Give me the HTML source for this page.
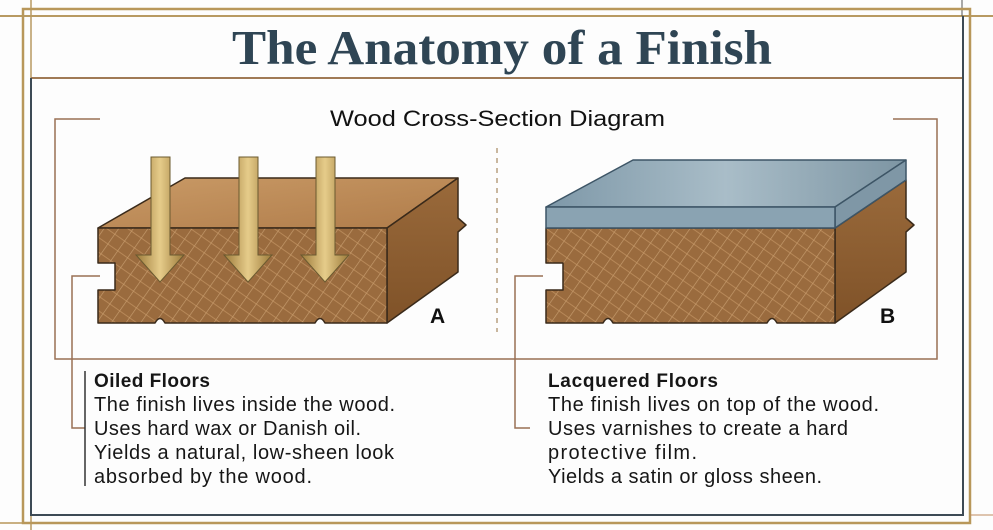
<!DOCTYPE html>
<html><head><meta charset="utf-8"><style>
html,body{margin:0;padding:0;background:#fdfdfd;}
svg{display:block}
</style></head><body>
<svg width="993" height="530" viewBox="0 0 993 530" xmlns="http://www.w3.org/2000/svg">
<defs>
<pattern id="grain" width="12" height="12" patternUnits="userSpaceOnUse" patternTransform="rotate(35)">
<rect width="12" height="12" fill="#9a6b3e"/>
<line x1="0" y1="0" x2="0" y2="12" stroke="#d9b083" stroke-width="1.3" opacity=".7"/>
<line x1="0" y1="6" x2="12" y2="6" stroke="#c99a68" stroke-width="1" opacity=".6"/>
</pattern>
<linearGradient id="top" x1="0" y1="0" x2="1" y2="1"><stop offset="0" stop-color="#c99a66"/><stop offset="1" stop-color="#b07c4a"/></linearGradient>
<linearGradient id="side" x1="0" y1="0" x2="0" y2="1"><stop offset="0" stop-color="#9a6a3b"/><stop offset="1" stop-color="#7f5228"/></linearGradient>
<linearGradient id="gold" x1="0" y1="0" x2="1" y2="0"><stop offset="0" stop-color="#9c7a3a"/><stop offset=".5" stop-color="#e6cc8a"/><stop offset="1" stop-color="#9c7a3a"/></linearGradient>
<linearGradient id="glass" x1="0" y1="0" x2="1" y2="0"><stop offset="0" stop-color="#7e98a8"/><stop offset=".5" stop-color="#a9bdc8"/><stop offset="1" stop-color="#7d95a3"/></linearGradient>
</defs>
<g fill="none">
<line x1="0" y1="16" x2="993" y2="16" stroke="#b89a62" stroke-width="2"/>
<line x1="31" y1="0" x2="31" y2="530" stroke="#b89a62" stroke-width="1.5"/>
<line x1="962" y1="0" x2="962" y2="16" stroke="#555" stroke-width="1"/>
<rect x="23" y="9" width="947" height="514" stroke="#b8975a" stroke-width="2.5"/>
<line x1="31" y1="78" x2="963" y2="78" stroke="#a07a55" stroke-width="2"/>
<path d="M31 78 V515 H963 V16" stroke="#3d4a55" stroke-width="2"/>
<line x1="0" y1="523" x2="23" y2="523" stroke="#b8975a" stroke-width="1.5"/>
<line x1="970" y1="515" x2="993" y2="515" stroke="#c08a60" stroke-width="1"/>
</g>
<text x="232" y="64" textLength="540" lengthAdjust="spacingAndGlyphs" font-family="Liberation Serif, serif" font-weight="bold" font-size="49" fill="#2f4554">The Anatomy of a Finish</text>
<text x="330" y="126" textLength="335" lengthAdjust="spacingAndGlyphs" font-family="Liberation Sans, sans-serif" font-size="22" fill="#111">Wood Cross-Section Diagram</text>
<path d="M100 119 H55 V359 H937 V119 H893" fill="none" stroke="#9a7055" stroke-width="1.5"/>
<path d="M100 276 H72 V428 H85" fill="none" stroke="#9a7055" stroke-width="1.5"/>
<path d="M543 276 H515 V428 H530" fill="none" stroke="#9a7055" stroke-width="1.5"/>
<line x1="497" y1="148" x2="497" y2="332" stroke="#b8a080" stroke-width="1.5" stroke-dasharray="5,5"/>
<g stroke="#3a2a1a" stroke-width="1.5" stroke-linejoin="round">
<path d="M98 228 L185 178 L458 178 L387 228 Z" fill="url(#top)"/>
<path d="M387 228 L458 178 L458 218 L466 225 L458 232 L458 272 L387 323 Z" fill="url(#side)"/>
<path d="M98 228 H387 V323 H325 Q320 314 315 323 H165 Q160 314 155 323 H98 V290 H115 V263 H98 Z" fill="url(#grain)"/>
</g>
<g fill="url(#gold)" stroke="#6b5a30" stroke-width="1">
<path d="M151 157 H170 V255 H184 L160 282 L136 255 H151 Z"/>
<path d="M239 157 H258 V255 H272 L248 282 L224 255 H239 Z"/>
<path d="M316 157 H335 V255 H349 L325 282 L301 255 H316 Z"/>
</g>
<text x="430" y="323" font-family="Liberation Sans, sans-serif" font-weight="bold" font-size="21" fill="#111">A</text>
<g stroke="#3a2a1a" stroke-width="1.5" stroke-linejoin="round">
<path d="M835 228 L906 180 L906 218 L914 225 L906 232 L906 272 L835 323 Z" fill="url(#side)"/>
<path d="M546 228 H835 V323 H777 Q772 314 767 323 H613 Q608 314 603 323 H546 V290 H563 V263 H546 Z" fill="url(#grain)"/>
</g>
<g stroke="#3d5566" stroke-width="1.5" stroke-linejoin="round">
<path d="M546 207 L633 160 L906 160 L835 207 Z" fill="url(#glass)"/>
<path d="M835 207 L906 160 L906 180 L835 228 Z" fill="#7f97a6"/>
<rect x="546" y="207" width="289" height="21" fill="#8aa3b2"/>
</g>
<text x="880" y="323" font-family="Liberation Sans, sans-serif" font-weight="bold" font-size="21" fill="#111">B</text>
<line x1="85" y1="371" x2="85" y2="486" stroke="#333" stroke-width="1.5"/>
<g font-family="Liberation Sans, sans-serif" font-size="20" fill="#161616" lengthAdjust="spacingAndGlyphs">
<text x="94" y="387" font-weight="bold" font-size="19" textLength="116">Oiled Floors</text>
<text x="94" y="411" textLength="301">The finish lives inside the wood.</text>
<text x="94" y="435" textLength="267">Uses hard wax or Danish oil.</text>
<text x="94" y="459" textLength="300">Yields a natural, low-sheen look</text>
<text x="94" y="483" textLength="218">absorbed by the wood.</text>
<text x="548" y="387" font-weight="bold" font-size="19" textLength="170">Lacquered Floors</text>
<text x="548" y="411" textLength="331">The finish lives on top of the wood.</text>
<text x="548" y="435" textLength="300">Uses varnishes to create a hard</text>
<text x="548" y="459" textLength="149">protective film.</text>
<text x="548" y="483" textLength="274">Yields a satin or gloss sheen.</text>
</g>
</svg>
</body></html>
